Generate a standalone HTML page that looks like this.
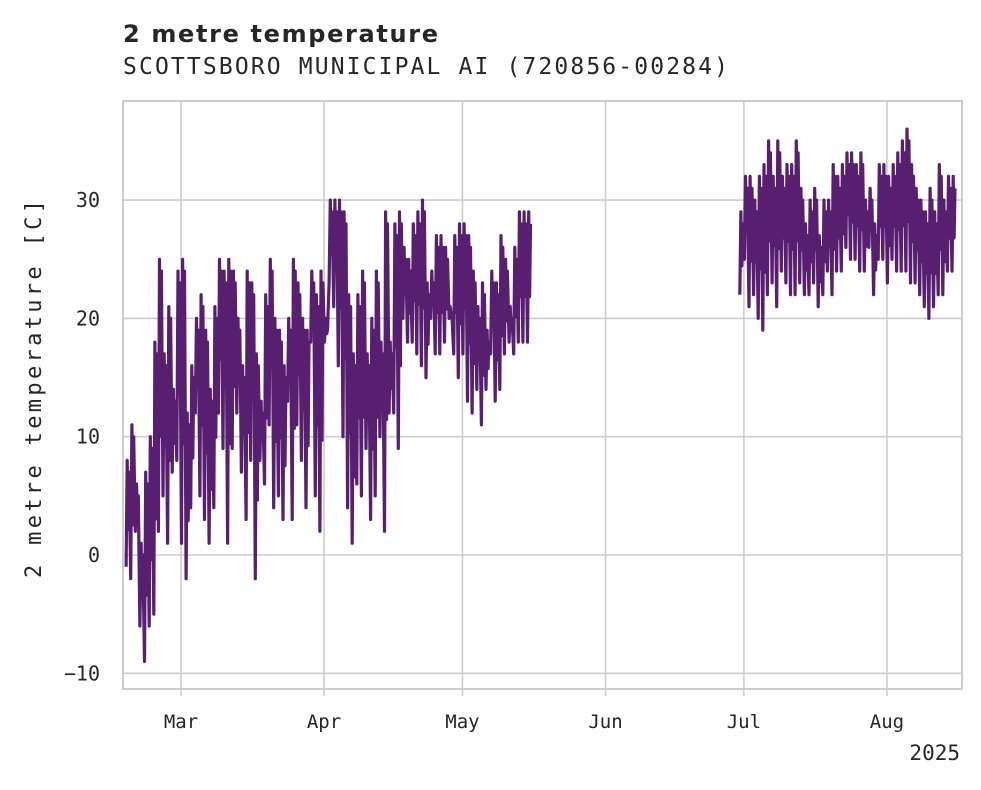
<!DOCTYPE html>
<html><head><meta charset="utf-8"><style>
body{margin:0;background:#fff;}
svg text{font-family:"DejaVu Sans Mono","Liberation Mono",monospace;fill:#262626;}
</style></head><body>
<svg id="chart" width="981" height="785">
<text x="123" y="42" textLength="315" style="font-family:'DejaVu Sans',sans-serif;font-weight:bold;font-size:24px">2 metre temperature</text>
<text x="123" y="74" textLength="605" style="font-size:23px">SCOTTSBORO MUNICIPAL AI (720856-00284)</text>
<g id="grid"></g>
<g id="series"></g>
<rect x="123" y="101" width="839" height="588" fill="none" stroke="#cccccc" stroke-width="2"/>
<text x="0" y="0" transform="translate(41,389) rotate(-90)" text-anchor="middle" textLength="378" style="font-size:22px">2 metre temperature [C]</text>
<text x="960" y="760" text-anchor="end" style="font-size:21px">2025</text>
</svg>
<script>
const yTicks=[-10,0,10,20,30];
const xTickLabels=["Mar","Apr","May","Jun","Jul","Aug"];
const xTickDays=[0,31,61,92,122,153];
const springStart=-12;
const springMax=[8,11,6,1,7,10,18,25,17,21,14,24,
25,12,16,20,22,19,14,21,25,24,25,24,20,16,24,23,17,13,22,25,20,19,16,20,25,23,20,19,24,22,24,
20,30,30,30,29,22,17,22,24,17,20,24,18,29,18,28,29,26,25,28,29,30,23,24,27,27,26,21,27,28,
28,27,24,21,23,19,24,23,27,25,21,26,29,29,29];
const springMin=[-1,-2,2,-6,-9,-6,-5,2,5,1,7,8,
1,-2,4,12,5,3,1,4,12,9,1,9,12,7,3,8,-2,8,6,11,4,5,3,13,3,11,8,4,18,5,2,
18,23,21,16,10,4,1,6,5,9,3,5,10,2,12,12,9,20,18,18,17,16,15,20,17,17,18,20,17,15,
17,13,12,14,11,14,17,13,14,17,18,17,18,18,18];
const summerStart=121;
const summerMax=[29,32,32,30,32,33,35,32,35,32,33,33,35,31,28,30,31,27,30,30,33,32,33,34,34,33,34,30,31,28,33,33,32,33,34,35,36,33,31,30,29,31,29,33,30,32,32];
const summerMin=[22,25,21,22,20,19,22,23,21,24,23,22,22,23,22,22,23,21,22,24,22,24,24,26,25,25,24,24,26,22,25,25,23,25,24,24,24,23,23,22,21,20,21,22,22,24,24];

const L=123,R=962,T=101,B=689;
function xs(d){return 181+d*4.614;}
function ys(v){return 555-v*11.83;}
const NS="http://www.w3.org/2000/svg";
const grid=document.getElementById('grid');
const svg=document.getElementById('chart');
yTicks.forEach(v=>{
  const l=document.createElementNS(NS,'line');
  l.setAttribute('x1',L);l.setAttribute('x2',R);l.setAttribute('y1',ys(v));l.setAttribute('y2',ys(v));
  l.setAttribute('stroke','#cccccc');l.setAttribute('stroke-width','1.6');
  
  
  grid.appendChild(l);
  const t=document.createElementNS(NS,'text');
  t.setAttribute('x',100);t.setAttribute('y',ys(v)+7);t.setAttribute('text-anchor','end');t.setAttribute('font-size','20');
  t.textContent=v<0?'\u2212'+(-v):String(v);
  
  
  svg.appendChild(t);
});
xTickDays.forEach((d,i)=>{
  const x=xs(d);
  const l=document.createElementNS(NS,'line');
  l.setAttribute('x1',x);l.setAttribute('x2',x);l.setAttribute('y1',T);l.setAttribute('y2',B);
  l.setAttribute('stroke','#cccccc');l.setAttribute('stroke-width','1.6');
  
  
  grid.appendChild(l);
  const tk=document.createElementNS(NS,'line');
  tk.setAttribute('x1',x);tk.setAttribute('x2',x);tk.setAttribute('y1',B);tk.setAttribute('y2',B+7);
  tk.setAttribute('stroke','#cccccc');tk.setAttribute('stroke-width','1.6');
  
  
  svg.appendChild(tk);
  const t=document.createElementNS(NS,'text');
  t.setAttribute('x',x);t.setAttribute('y',728);t.setAttribute('text-anchor','middle');t.setAttribute('font-size','19');
  t.textContent=xTickLabels[i];
  
  
  svg.appendChild(t);
});
function drawSeg(start,mx,mn,name){
  let pts=[];
  for(let i=0;i<mx.length;i++){
    const d=start+i;
    const mid=mn[i]+(mx[i]-mn[i])*0.35;
    pts.push(xs(d+0.1).toFixed(1)+','+ys(mn[i]).toFixed(1));
    pts.push(xs(d+0.35).toFixed(1)+','+ys(mx[i]).toFixed(1));
    pts.push(xs(d+0.55).toFixed(1)+','+ys(mid).toFixed(1));
    pts.push(xs(d+0.75).toFixed(1)+','+ys(mx[i]-1).toFixed(1));
  }
  const p=document.createElementNS(NS,'polyline');
  p.setAttribute('points',pts.join(' '));
  p.setAttribute('fill','none');p.setAttribute('stroke','#581f70');p.setAttribute('stroke-width','3.2');
  p.setAttribute('stroke-linejoin','round');
  
  
  document.getElementById('series').appendChild(p);
}
drawSeg(springStart,springMax,springMin,'temperature-line-spring');
drawSeg(summerStart,summerMax,summerMin,'temperature-line-summer');
</script>
</body></html>
